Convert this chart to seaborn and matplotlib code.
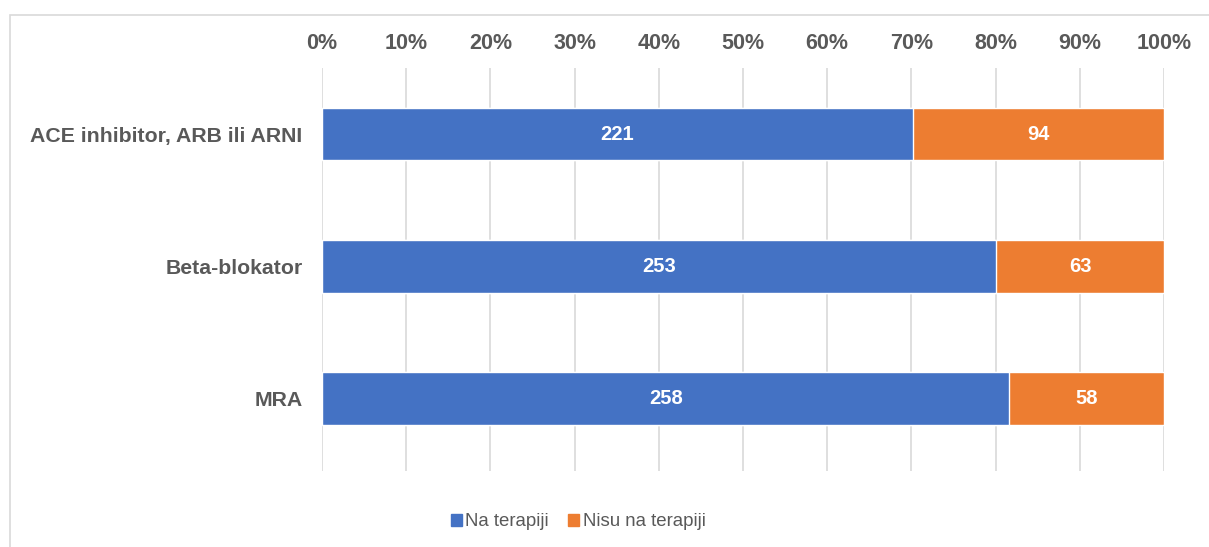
import pandas as pd
import seaborn as sns
import matplotlib.pyplot as plt
from matplotlib.patches import Rectangle, Patch

sns.set_theme(style="white")
plt.rcParams['font.family'] = ['Liberation Sans', 'DejaVu Sans']

categories = ['ACE inhibitor, ARB ili ARNI', 'Beta-blokator', 'MRA']
na_terapiji = [221, 253, 258]
nisu_na_terapiji = [94, 63, 58]
ticks = list(range(0, 101, 10))

blue = '#4472C4'
orange = '#ED7D31'
gray = '#595959'

df = pd.DataFrame({'lijek': categories, 'na': na_terapiji, 'nisu': nisu_na_terapiji})
df['total'] = df['na'] + df['nisu']
df['na_pct'] = df['na'] / df['total'] * 100
df['full'] = 100.0

fig = plt.figure(figsize=(12.09, 5.47), dpi=100)
ax = fig.add_axes([322 / 1209, 1 - 471 / 547, (1164 - 322) / 1209, (471 - 68) / 547])

sns.barplot(data=df, y='lijek', x='full', color=orange, width=0.4,
            saturation=1, orient='h', ax=ax)
sns.barplot(data=df, y='lijek', x='na_pct', color=blue, width=0.4,
            saturation=1, orient='h', ax=ax)

for i, row in df.iterrows():
    ax.text(row['na_pct'] / 2, i, str(row['na']), ha='center', va='center',
            color='white', fontsize=14.5, fontweight='bold')
    ax.text(row['na_pct'] + (100 - row['na_pct']) / 2, i, str(row['nisu']),
            ha='center', va='center', color='white', fontsize=14.5, fontweight='bold')

ax.set_xlim(0, 100)
ax.set_ylim(2.55, -0.5)
ax.set_xticks(ticks)
ax.set_xticklabels([f'{t}%' for t in ticks])
ax.xaxis.tick_top()
ax.tick_params(axis='x', length=0, pad=10, labelsize=15.5, labelcolor=gray)
ax.tick_params(axis='y', length=0, pad=14, labelsize=15.3, labelcolor=gray)
for lbl in ax.get_xticklabels() + ax.get_yticklabels():
    lbl.set_fontweight('bold')
ax.set_xlabel('')
ax.set_ylabel('')
ax.grid(axis='x', color='#D9D9D9', linewidth=1.2)
ax.set_axisbelow(True)
for s in ax.spines.values():
    s.set_visible(False)

handles = [Patch(color=blue, label='Na terapiji'), Patch(color=orange, label='Nisu na terapiji')]
fig.legend(handles=handles, loc='center', bbox_to_anchor=(578 / 1209, 1 - 522 / 547),
           ncol=2, frameon=False, fontsize=13.4, labelcolor=gray,
           handlelength=0.6, handleheight=0.6, handletextpad=0.2, columnspacing=1.0)

fig.patches.append(Rectangle((10 / 1209, -0.1), 1.2, 1.1 - 15 / 547, transform=fig.transFigure,
                             fill=False, edgecolor='#D9D9D9', linewidth=1.2))

fig.savefig('out.png', dpi=100)
